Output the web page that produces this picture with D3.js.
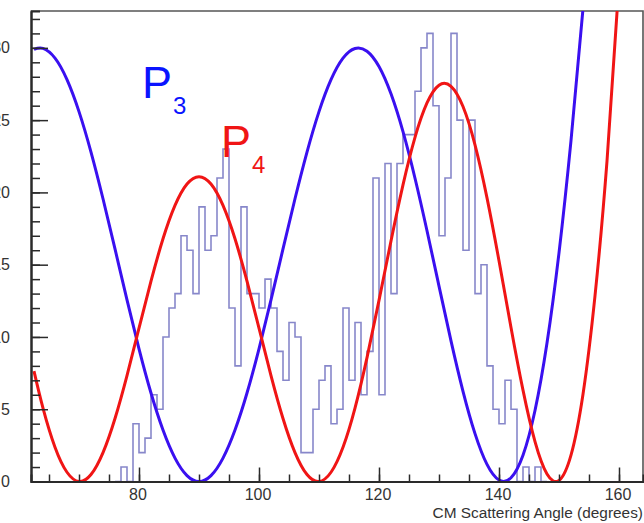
<!DOCTYPE html>
<html>
<head>
<meta charset="utf-8">
<script src="https://cdn.jsdelivr.net/npm/d3@7"></script>
<style>
  html, body { margin: 0; padding: 0; background: #fff; overflow: hidden; }
  svg { display: block; }
  text { font-family: "Liberation Sans", Arial, Helvetica, sans-serif; }
</style>
</head>
<body>
<svg id="chart" width="644" height="523"></svg>
<script>
// ---------- data ----------
// sampled angles (degrees) of the two fitted curves
const curveAngles = [62.5, 64, 66, 68, 70, 72, 74, 76, 78, 80, 82, 84, 86, 88, 90, 92, 94, 96, 98, 100,
  102, 104, 106, 108, 110, 112, 114, 116, 118, 120, 122, 124, 126, 128, 130, 132, 134, 136, 138, 140,
  142, 144, 146, 148, 150, 152, 154, 156, 158, 160, 162];
const p3Values = [29.90, 29.96, 29.29, 27.80, 25.59, 22.79, 19.56, 16.09, 12.56, 9.18, 6.12, 3.56, 1.62, 0.41, 0.00,
  0.41, 1.62, 3.56, 6.12, 9.18, 12.56, 16.09, 19.56, 22.79, 25.59, 27.80, 29.29, 29.96, 29.77, 28.71,
  26.82, 24.20, 20.98, 17.35, 13.52, 9.73, 6.24, 3.31, 1.18, 0.10, 0.26, 1.82, 4.91, 9.58, 15.82,
  23.58, 32.71, 43.05, 54.3, 66.3, 78.6];
const p4Values = [7.64, 5.08, 2.37, 0.64, 0.00, 0.48, 2.00, 4.36, 7.33, 10.61, 13.86, 16.79, 19.10, 20.58, 21.09,
  20.58, 19.10, 16.79, 13.86, 10.61, 7.33, 4.36, 2.00, 0.48, 0.00, 0.64, 2.37, 5.08, 8.57, 12.53,
  16.64, 20.52, 23.81, 26.19, 27.42, 27.34, 25.94, 23.29, 19.62, 15.27, 10.66, 6.32, 2.76, 0.52, 0.08,
  1.83, 6.04, 12.84, 22.17, 34.5, 49.0];

// histogram: 1-degree bins, lower edges
const binEdges = [76, 77, 78, 79, 80, 81, 82, 83, 84, 85, 86, 87, 88, 89, 90, 91, 92, 93, 94, 95,
  96, 97, 98, 99, 100, 101, 102, 103, 104, 105, 106, 107, 108, 109, 110, 111, 112, 113, 114, 115,
  116, 117, 118, 119, 120, 121, 122, 123, 124, 125, 126, 127, 128, 129, 130, 131, 132, 133, 134, 135,
  136, 137, 138, 139, 140, 141, 142, 143, 144, 145, 146, 147];
const binCounts = [0, 1, 0, 4, 2, 3, 6, 5, 10, 12, 13, 17, 16, 13, 19, 16, 17, 21, 23, 12,
  8, 19, 13, 13, 12, 14, 12, 9, 7, 11, 10, 2, 2, 5, 7, 8, 4, 5, 12, 7,
  11, 6, 9, 21, 6, 22, 13, 22, 24, 24, 27, 30, 31, 26, 17, 21, 31, 25, 16, 25,
  13, 15, 8, 5, 4, 7, 5, 0, 1, 0, 1, 0];
const binWidth = 1;

const xMajorTicks = [80, 100, 120, 140, 160];
const yMajorTicks = [0, 5, 10, 15, 20, 25, 30];
const xTitle = "CM Scattering Angle (degrees)";
const curveLabels = [{name: "P", sub: "3", key: "p3"}, {name: "P", sub: "4", key: "p4"}];

// ---------- layout ----------
const svg = d3.select("#chart");
const mLeft = 31, mRight = 643, mTop = 11, mBottom = 481.5;
const x = d3.scaleLinear().domain([62, 164]).range([mLeft, mRight]);
const y = d3.scaleLinear().domain([0, 32.55]).range([mBottom, mTop]);

const colors = {p3: "#3a10f0", p4: "#f01515", hist: "#7a7ac4", axis: "#2a2a2a"};

svg.append("defs").append("clipPath").attr("id", "plotclip")
  .append("rect").attr("x", mLeft).attr("y", mTop).attr("width", mRight - mLeft).attr("height", mBottom - mTop + 8);

// frame (top & right)
svg.append("path")
  .attr("d", `M${mLeft},${mTop}H${mRight}V${mBottom}`)
  .attr("fill", "none").attr("stroke", "#555").attr("stroke-width", 1.6);

const plot = svg.append("g").attr("clip-path", "url(#plotclip)");

// histogram outline
const histPts = [];
binEdges.forEach((e, i) => {
  histPts.push([e, binCounts[i]]);
  histPts.push([e + binWidth, binCounts[i]]);
});
plot.append("path")
  .datum(histPts)
  .attr("d", d3.line().x(d => x(d[0])).y(d => y(d[1])))
  .attr("fill", "none").attr("stroke", colors.hist).attr("stroke-width", 1.6).attr("stroke-opacity", 0.9);

// curves
const curveGen = d3.line().x(d => x(d[0])).y(d => y(d[1])).curve(d3.curveNatural);
[["p3", p3Values], ["p4", p4Values]].forEach(([k, vals]) => {
  plot.append("path")
    .datum(curveAngles.map((a, i) => [a, vals[i]]))
    .attr("d", curveGen)
    .attr("fill", "none").attr("stroke", colors[k]).attr("stroke-width", 3).attr("stroke-linejoin", "round");
});

// x axis
const xMinor = d3.range(65, 164, 5);
const gxMinor = svg.append("g").attr("transform", `translate(0,${mBottom})`)
  .call(d3.axisBottom(x).tickValues(xMinor).tickSize(-7).tickFormat(""));
const gx = svg.append("g").attr("transform", `translate(0,${mBottom})`)
  .call(d3.axisBottom(x).tickValues(xMajorTicks).tickSize(-14).tickSizeOuter(0).tickPadding(7).tickFormat(d3.format("d")));
[gx, gxMinor].forEach(g => {
  g.select(".domain").attr("stroke", colors.axis).attr("stroke-width", 2);
  g.selectAll(".tick line").attr("stroke", colors.axis).attr("stroke-width", 1.5);
});
gx.selectAll(".tick text").attr("font-size", 16).attr("fill", "#333").attr("dx", -1.5)
  .attr("font-family", "Liberation Sans, Arial, sans-serif");

// y axis
const yMinor = d3.range(0, 33, 1);
const gyMinor = svg.append("g").attr("transform", `translate(${mLeft},0)`)
  .call(d3.axisLeft(y).tickValues(yMinor).tickSize(-9).tickFormat(""));
const gy = svg.append("g").attr("transform", `translate(${mLeft},0)`)
  .call(d3.axisLeft(y).tickValues(yMajorTicks).tickSize(-17).tickSizeOuter(0).tickPadding(21).tickFormat(d3.format("d")));
[gy, gyMinor].forEach(g => {
  g.select(".domain").attr("stroke", colors.axis).attr("stroke-width", 2);
  g.selectAll(".tick line").attr("stroke", colors.axis).attr("stroke-width", 1.5);
});
gy.selectAll(".tick text").attr("font-size", 16).attr("fill", "#333")
  .attr("font-family", "Liberation Sans, Arial, sans-serif");

// x title
svg.append("text").attr("x", mRight).attr("y", 518).attr("text-anchor", "end")
  .attr("font-size", 15.4).attr("fill", "#333").text(xTitle);

// curve labels
const labelPos = {p3: {x: 142, y: 98, color: "#0a14ff"}, p4: {x: 221, y: 157, color: "#f01515"}};
curveLabels.forEach(l => {
  const p = labelPos[l.key];
  svg.append("text").attr("x", p.x).attr("y", p.y).attr("font-size", 45).attr("fill", p.color).text(l.name);
  svg.append("text").attr("x", p.x + 31).attr("y", p.y + 16).attr("font-size", 24).attr("fill", p.color).text(l.sub);
});
</script>
</body>
</html>
